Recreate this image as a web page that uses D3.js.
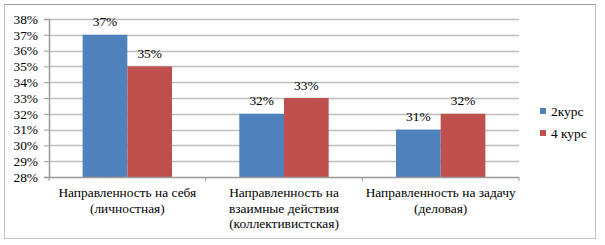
<!DOCTYPE html>
<html>
<head>
<meta charset="utf-8">
<script src="https://cdn.jsdelivr.net/npm/d3@7"></script>
<style>
    body { margin: 0; background: #fff; }
</style>
</head>
<body>
<svg id="chart" width="605" height="245"></svg>
<script>
// Chart data
const categories = [
    ["Направленность на себя", "(личностная)"],
    ["Направленность на", "взаимные действия", "(коллективистская)"],
    ["Направленность на задачу", "(деловая)"]
];
const seriesNames = ["2курс", "4 курс"];
const course2 = [37, 32, 31];
const course4 = [35, 33, 32];
const yTicks = [28, 29, 30, 31, 32, 33, 34, 35, 36, 37, 38];
const colors = ["#4f81bd", "#c0504d"];

const FONT = "'Liberation Serif'";
const FSIZE = "13.4px";

// apply the serif font straight on every text node
function serif(sel) {
    return sel.style("font-family", FONT).style("font-size", FSIZE).attr("fill", "#000");
}

const svg = d3.select("#chart");

// Outer frame
svg.append("rect")
    .attr("x", 4.5).attr("y", 4.5)
    .attr("width", 591).attr("height", 234)
    .attr("fill", "none")
    .attr("stroke", "#8c8c8c")
    .attr("stroke-dasharray", "1,1");
svg.append("line")
    .attr("x1", 4).attr("x2", 596)
    .attr("y1", 4.5).attr("y2", 4.5)
    .attr("stroke", "#a0a0a0");

const plotLeft = 49, plotRight = 519, plotTop = 19, plotBottom = 177;

const x = d3.scaleBand()
    .domain(d3.range(categories.length))
    .range([plotLeft, plotRight])
    .paddingInner(0).paddingOuter(0);

const y = d3.scaleLinear().domain([28, 38]).range([plotBottom, plotTop]);

// Gridlines
svg.append("g").selectAll("line")
    .data(yTicks.slice(1))
    .enter().append("line")
    .attr("x1", plotLeft).attr("x2", plotRight)
    .attr("y1", d => Math.round(y(d)) + 0.5)
    .attr("y2", d => Math.round(y(d)) + 0.5)
    .attr("stroke", "#bdbdbd")
    .attr("stroke-width", 1.3);

// Y axis
const yAxis = svg.append("g")
    .attr("transform", `translate(${plotLeft},0)`)
    .call(d3.axisLeft(y).tickValues(yTicks).tickFormat(d => d + "%").tickSize(5).tickPadding(6));
yAxis.attr("font-family", null).attr("font-size", null);
yAxis.select(".domain").attr("stroke", "#999").attr("stroke-width", 1.5);
yAxis.selectAll(".tick line").attr("stroke", "#999");
serif(yAxis.selectAll("text"));

// Bars
const series = [course2, course4];
const barW = 44.7;
series.forEach((vals, s) => {
    const g = svg.append("g");
    g.selectAll("rect")
        .data(vals)
        .enter().append("rect")
        .attr("x", (d, i) => x(i) + x.bandwidth() / 2 - barW + s * barW)
        .attr("y", d => y(d))
        .attr("width", barW)
        .attr("height", d => plotBottom - y(d))
        .attr("fill", colors[s]);
    serif(g.selectAll("text")
        .data(vals)
        .enter().append("text")
        .attr("x", (d, i) => x(i) + x.bandwidth() / 2 - barW / 2 + s * barW)
        .attr("y", d => y(d) - 8.5)
        .attr("text-anchor", "middle")
        .text(d => d + "%"));
});

// X axis
svg.append("line")
    .attr("x1", plotLeft).attr("x2", plotRight)
    .attr("y1", plotBottom + 0.5).attr("y2", plotBottom + 0.5)
    .attr("stroke", "#999").attr("stroke-width", 1.5);
svg.append("g").selectAll("line")
    .data(d3.range(categories.length + 1))
    .enter().append("line")
    .attr("x1", i => plotLeft + i * x.bandwidth())
    .attr("x2", i => plotLeft + i * x.bandwidth())
    .attr("y1", plotBottom).attr("y2", plotBottom + 4)
    .attr("stroke", "#999");

// Category labels
const catLabels = serif(svg.append("g").selectAll("text")
    .data(categories)
    .enter().append("text")
    .attr("text-anchor", "middle")
    .attr("y", 197));
catLabels.selectAll("tspan")
    .data((d, i) => d.map(t => ({ t, i })))
    .enter().append("tspan")
    .attr("x", d => x(d.i) + x.bandwidth() / 2)
    .attr("dy", (d, j) => j === 0 ? 0 : 15.5)
    .text(d => d.t);

// Legend
const legend = svg.append("g").selectAll("g")
    .data(seriesNames)
    .enter().append("g")
    .attr("transform", (d, i) => `translate(540,${108 + i * 22})`);
legend.append("rect")
    .attr("width", 6).attr("height", 6)
    .attr("fill", (d, i) => colors[i]);
serif(legend.append("text")
    .attr("x", 11).attr("y", 7.5)
    .text(d => d));
</script>
</body>
</html>
